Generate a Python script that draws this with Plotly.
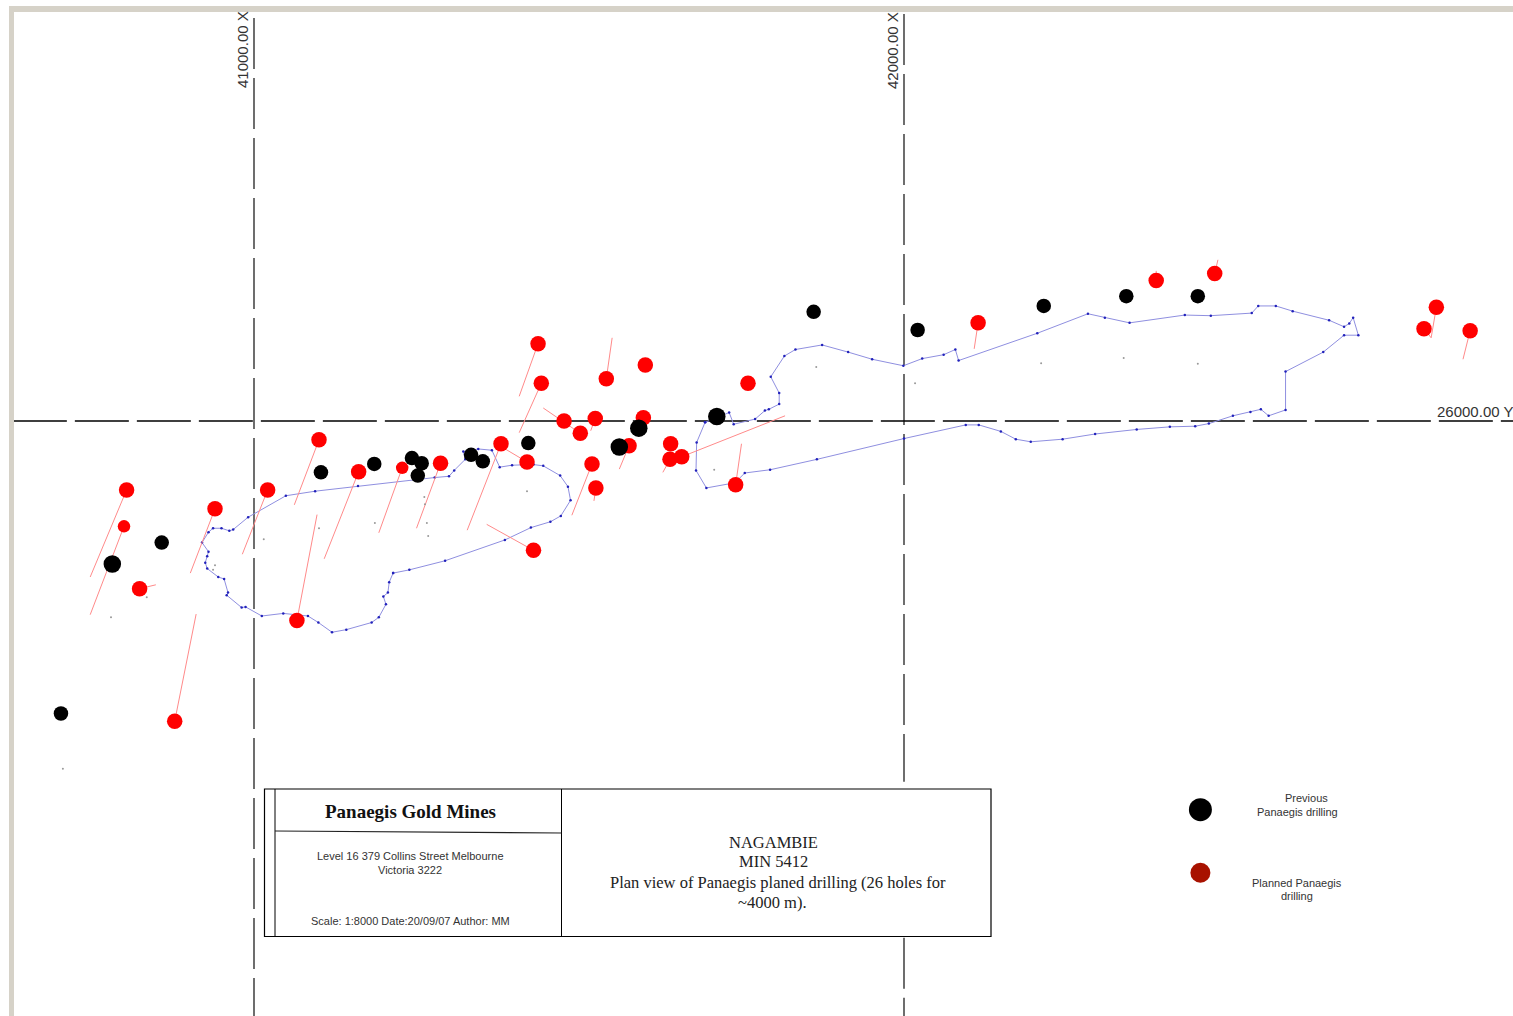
import plotly.graph_objects as go

# ---- data (map grid units) ----
grid_x_labels = ["41000.00 X", "42000.00 X"]
grid_y_label = "26000.00 Y"

planned_x = [40804, 40824, 40878, 40940, 41021, 41100, 41066, 41161, 41287, 41380, 41420, 41430, 41437, 41442,
             41477, 41502, 41525, 41542, 41602, 41599, 41577, 41520, 41526, 41641, 41640, 41658, 41741, 41760,
             42114, 42388, 42478, 42800, 42819, 42871]
planned_y = [25894, 25742, 25538, 25865, 25894, 25971, 25693, 25922, 25935, 25965, 25937, 25801, 26119, 26058,
             26000, 25981, 26004, 26065, 26086, 26005, 25962, 25934, 25897, 25965, 25941, 25945, 25902, 26058,
             26151, 26216, 26227, 26142, 26175, 26139]
planned_small_x = [40800, 41228]
planned_small_y = [25838, 25928]

previous_x = [40703, 40858, 41103, 41185, 41243, 41258, 41252, 41334, 41352, 41422, 41861, 42021, 42215, 42342, 42452]
previous_y = [25550, 25813, 25921, 25934, 25943, 25935, 25916, 25948, 25938, 25966, 26168, 26140, 26177, 26192, 26192]
previous_large_x = [40782, 41562, 41592, 41712]
previous_large_y = [25780, 25960, 25989, 26007]

collar_x = [40804, 40800, 40824, 40940, 41021, 41100, 41066, 41161, 41228, 41287, 41380, 40878, 41437, 41442, 41502,
            41542, 41420, 41430, 41520, 41526, 41577, 41640, 41658, 41741, 41525, 42114, 42388, 42478, 42819, 42800, 42871]
collar_y = [25894, 25838, 25742, 25865, 25894, 25971, 25693, 25922, 25928, 25935, 25965, 25538, 26119, 26058, 25981,
            26065, 25937, 25801, 25934, 25897, 25962, 25941, 25945, 25902, 26004, 26151, 26216, 26227, 26175, 26142, 26139]
toe_x = [40748, 40748, 40849, 40902, 40982, 41062, 41097, 41108, 41192, 41250, 41328, 40911, 41408, 41408, 41445,
         41551, 41388, 41358, 41489, 41523, 41562, 41629, 41817, 41750, 41518, 42108, 42388, 42483, 42811, 42811, 42860]
toe_y = [25760, 25702, 25748, 25766, 25795, 25871, 25856, 25788, 25828, 25835, 25832, 25703, 26038, 25982, 26020,
         26128, 25956, 25841, 25855, 25877, 25926, 25921, 26008, 25965, 25985, 26111, 26231, 26248, 26128, 26128, 26095]

west_zone_x = [41214, 41239, 41294, 41386, 41426, 41456, 41472, 41487, 41483, 41471, 41445, 41430, 41397, 41378, 41366,
               41345, 41322, 41325, 41308, 41300, 41278, 41160, 41094, 41049, 40991, 40968, 40962, 40950, 40937, 40930,
               40920, 40930, 40928, 40925, 40928, 40945, 40954, 40960, 40958, 40981, 40987, 41012, 41045, 41083, 41099,
               41120, 41142, 41181, 41192, 41203, 41199, 41206, 41208, 41214]
west_zone_y = [25766, 25771, 25785, 25817, 25836, 25845, 25854, 25878, 25899, 25916, 25931, 25933, 25932, 25929, 25955,
               25957, 25953, 25941, 25924, 25915, 25913, 25900, 25892, 25885, 25852, 25833, 25831, 25835, 25835, 25829,
               25813, 25799, 25792, 25782, 25773, 25760, 25757, 25736, 25732, 25713, 25714, 25700, 25704, 25700, 25690,
               25675, 25679, 25690, 25698, 25718, 25730, 25736, 25752, 25766]

east_zone_x = [41694, 41731, 41738, 41771, 41786, 41792, 41808, 41808, 41795, 41816, 41833, 41874, 41914, 41951, 41999,
               42028, 42061, 42079, 42084, 42205, 42283, 42309, 42347, 42432, 42472, 42535, 42545, 42572, 42598, 42654,
               42677, 42685, 42691, 42699, 42677, 42645, 42587, 42587, 42561, 42549, 42533, 42506, 42469, 42448, 42409,
               42358, 42294, 42244, 42195, 42172, 42149, 42115, 42095, 42000, 41866, 41794, 41755, 41740, 41696, 41680,
               41681, 41694]
east_zone_y = [25998, 26013, 25995, 26003, 26016, 26018, 26026, 26043, 26068, 26100, 26110, 26117, 26106, 26095, 26085,
               26096, 26102, 26110, 26093, 26135, 26165, 26159, 26151, 26163, 26162, 26166, 26177, 26177, 26169, 26155,
               26145, 26150, 26159, 26132, 26132, 26106, 26076, 26017, 26008, 26018, 26014, 26008, 25996, 25992, 25991,
               25987, 25980, 25972, 25968, 25972, 25984, 25994, 25994, 25973, 25941, 25925, 25920, 25905, 25897, 25924,
               25967, 25998]

speck_x = [40780, 40706, 41015, 41100, 41186, 41262, 41263, 41268, 41266, 41420, 41708, 41865, 42017, 42211, 42338, 42452, 40835, 40940, 40937]
speck_y = [25698, 25465, 25818, 25835, 25843, 25883, 25872, 25823, 25843, 25892, 25925, 26083, 26058, 26089, 26097, 26088, 25729, 25778, 25771]

key_x = [42456, 42456]
key_y = [25402, 25305]

# ---- page geometry ----
W, H = 1513, 1016
SCALE = 0.65                       # pixels per grid unit
X_MIN = 41000 - 254 / SCALE
Y_MAX = 26000 + 421 / SCALE
px = lambda v: v / W
py = lambda v: 1 - v / H
RED, BLACK = "#FF0000", "#000000"

fig = go.Figure()


def segs(x0, y0, x1, y1):
    xs, ys = [], []
    for a, b, c, d in zip(x0, y0, x1, y1):
        xs += [a, c, None]
        ys += [b, d, None]
    return xs, ys


def add_dots(x, y, size, color):
    fig.add_trace(go.Scatter(x=x, y=y, mode="markers", hoverinfo="skip",
                             marker=dict(size=size, color=color, line=dict(width=0))))


# grid lines
for gx in (41000,):
    fig.add_trace(go.Scatter(x=[gx, gx], y=[26620, Y_MAX - H / SCALE], mode="lines", hoverinfo="skip",
                             line=dict(color="#4a4a4a", width=1.6, dash="51px,9px")))
fig.add_trace(go.Scatter(x=[42000, 42000], y=[26626, 25445], mode="lines", hoverinfo="skip",
                         line=dict(color="#4a4a4a", width=1.6, dash="51px,9px")))
fig.add_trace(go.Scatter(x=[42000, 42000], y=[25205, Y_MAX - H / SCALE], mode="lines", hoverinfo="skip",
                         line=dict(color="#4a4a4a", width=1.6, dash="51px,9px")))
fig.add_trace(go.Scatter(x=[40629, X_MIN + W / SCALE], y=[26000, 26000], mode="lines", hoverinfo="skip",
                         line=dict(color="#000000", width=1.4, dash="54px,8px")))

# zones
for zx, zy in ((west_zone_x, west_zone_y), (east_zone_x, east_zone_y)):
    fig.add_trace(go.Scatter(x=zx, y=zy, mode="lines+markers", hoverinfo="skip",
                             line=dict(color="#8F8FE0", width=1),
                             marker=dict(size=2.5, color="#2222BB")))

# drill traces
dx, dy = segs(collar_x, collar_y, toe_x, toe_y)
fig.add_trace(go.Scatter(x=dx, y=dy, mode="lines", hoverinfo="skip",
                         line=dict(color="#FF8A8A", width=1)))
add_dots(speck_x, speck_y, 2, "#999999")

# holes
add_dots(planned_x, planned_y, 15.5, RED)
add_dots(previous_x, previous_y, 14.5, BLACK)
add_dots(previous_large_x, previous_large_y, 17.5, BLACK)
add_dots(planned_small_x, planned_small_y, 12.5, RED)

# key
add_dots(key_x[:1], key_y[:1], 23, BLACK)
add_dots(key_x[1:], key_y[1:], 20, "#A81200")

shapes = []


def rect(x0, y0, x1, y1, fill=None, color=None, width=1):
    shapes.append(dict(type="rect", xref="paper", yref="paper", x0=px(x0), x1=px(x1), y0=py(y0), y1=py(y1),
                       fillcolor=fill or "rgba(0,0,0,0)", line=dict(color=color or "rgba(0,0,0,0)", width=width),
                       layer="above"))


def line(x0, y0, x1, y1, color="#000000", width=1):
    shapes.append(dict(type="line", xref="paper", yref="paper", x0=px(x0), x1=px(x1), y0=py(y0), y1=py(y1),
                       line=dict(color=color, width=width), layer="above"))


# page frame
rect(9, 6, W, 12, fill="#D6D2C8")
rect(9, 6, 14, H, fill="#D6D2C8")
# title block
rect(264.5, 789, 991, 936.5, fill="#FFFFFF", color="#000000", width=1.2)
line(275, 789, 275, 936.5)
line(561.5, 789, 561.5, 936.5)
line(275, 831, 561.5, 833, color="#222222", width=1.2)

annots = []


def text(x, y, s, size, family="Liberation Sans", color="#222222", angle=0, anchor="center"):
    annots.append(dict(xref="paper", yref="paper", x=px(x), y=py(y), text=s, showarrow=False, textangle=angle,
                       xanchor=anchor, yanchor="middle", align="center",
                       font=dict(family=family, size=size, color=color)))


text(242, 50, grid_x_labels[0], 15, color="#333333", angle=-90)
text(892, 50, grid_x_labels[1], 15, color="#333333", angle=-90)
text(1435, 412, grid_y_label, 15, color="#333333", anchor="left")

text(410, 811, "<b>Panaegis Gold Mines</b>", 19, family="Liberation Sans Narrow", color="#111111")
text(410, 856, "Level 16 379 Collins Street Melbourne", 11, color="#333333")
text(410, 870, "Victoria 3222", 11, color="#333333")
text(410, 921, "Scale: 1:8000 Date:20/09/07 Author: MM", 11, color="#333333")

SERIF = "Liberation Serif"
text(774, 842, "NAGAMBIE", 16.5, family=SERIF)
text(773, 861, "MIN 5412", 16.5, family=SERIF)
text(778, 882, "Plan view of Panaegis planed drilling (26 holes for", 16.5, family=SERIF)
text(772, 902, "~4000 m).", 16.5, family=SERIF)

text(1306, 798, "Previous", 11, color="#333333")
text(1297, 812, "Panaegis drilling", 11, color="#333333")
text(1297, 883, "Planned Panaegis", 11, color="#333333")
text(1297, 896, "drilling", 11, color="#333333")

fig.update_layout(
    width=W, height=H, margin=dict(l=0, r=0, t=0, b=0), showlegend=False,
    paper_bgcolor="#FFFFFF", plot_bgcolor="#FFFFFF",
    xaxis=dict(range=[X_MIN, X_MIN + W / SCALE], visible=False, fixedrange=True),
    yaxis=dict(range=[Y_MAX - H / SCALE, Y_MAX], visible=False, fixedrange=True),
    shapes=shapes, annotations=annots,
)

fig.write_html("out.html", config={"displayModeBar": False},
               post_script="document.body.style.margin='0';document.body.style.overflow='hidden';")
